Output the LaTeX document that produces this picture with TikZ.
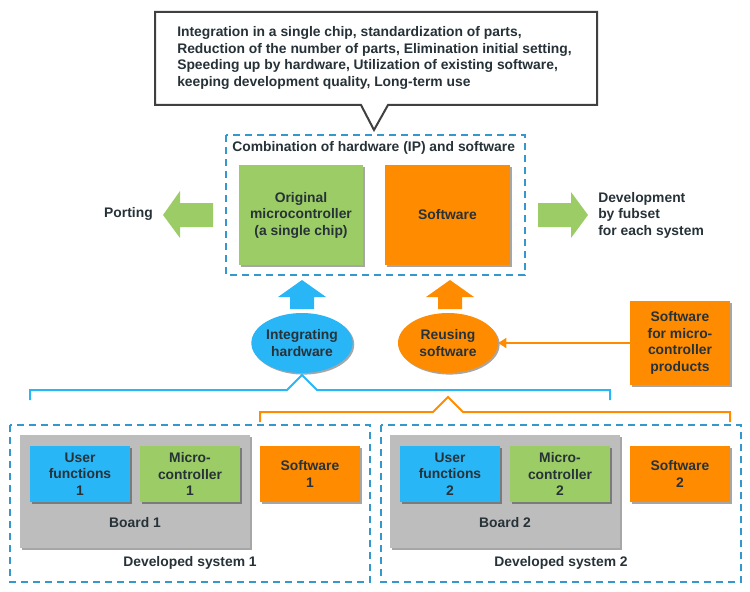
\documentclass[tikz,border=0pt]{standalone}
\usepackage{fontspec}
\setmainfont{Liberation Sans}
\usetikzlibrary{shapes.geometric,shadows,arrows.meta}
\definecolor{txt}{RGB}{38,50,56}
\definecolor{cblue}{RGB}{41,182,246}
\definecolor{cgreen}{RGB}{156,204,101}
\definecolor{corange}{RGB}{255,140,0}
\definecolor{cgray}{RGB}{189,189,189}
\definecolor{dblue}{RGB}{51,153,204}
\definecolor{cborder}{RGB}{64,64,64}
\begin{document}
\begin{tikzpicture}[x=0.75pt,y=-0.75pt,
  font=\bfseries\fontsize{10.4}{12.4}\selectfont, text=txt,
  sh/.style={drop shadow={shadow xshift=1.2pt,shadow yshift=-1.2pt,opacity=0.35,fill=black}},
  box/.style={rectangle, inner sep=0pt, align=center, sh},
  dbox/.style={draw=dblue, line width=1.5pt, dash pattern=on 5.5pt off 3.5pt},
  oval/.style={ellipse, inner sep=0pt, align=center, sh, minimum width=75pt, minimum height=45pt},
  lbl/.style={inner sep=0pt, align=center},
  bracket/.style={line width=1.5pt, line join=miter}
]
\useasboundingbox (0,0) rectangle (750,592);

% callout
\draw[draw=cborder, line width=1.5pt, fill=white, line join=miter]
  (155,12) -- (597,12) -- (597,105) -- (388,105) -- (374,130) -- (361,105) -- (155,105) -- cycle;
\node[lbl, align=left, anchor=north west] (call) at (177,26.5)
  {Integration in a single chip, standardization of parts,\\
   Reduction of the number of parts, Elimination initial setting,\\
   Speeding up by hardware, Utilization of existing software,\\
   keeping development quality, Long-term use};

% combination box
\draw[dbox] (226,135) rectangle (525,275);
\node[lbl, anchor=west] (comb) at (232,148) {Combination of hardware (IP) and software};
\node[box, fill=cgreen, minimum width=93pt, minimum height=75pt] (orig) at (301,215)
  {Original\\microcontroller\\(a single chip)};
\node[box, fill=corange, minimum width=93.75pt, minimum height=75pt] (sw) at (447.5,215) {Software};

% side arrows
\fill[cgreen] (163,215) -- (180,191) -- (180,203) -- (213,203) -- (213,227) -- (180,227) -- (180,238) -- cycle;
\fill[cgreen] (538,203) -- (571,203) -- (571,192) -- (588,215) -- (571,238) -- (571,227) -- (538,227) -- cycle;
\node[lbl, anchor=east] (port) at (153,214) {Porting};
\node[lbl, align=left, anchor=west] (dev) at (598,215) {Development\\by fubset\\for each system};

% up arrows
\fill[cblue] (302,280) -- (326,297) -- (314,297) -- (314,309) -- (290,309) -- (290,297) -- (278,297) -- cycle;
\fill[corange] (450,280) -- (474,297) -- (462,297) -- (462,309) -- (438,309) -- (438,297) -- (426,297) -- cycle;

% ellipses
\node[oval, fill=cblue] (integ) at (302,343) {Integrating\\hardware};
\node[oval, fill=corange] (reuse) at (448,343) {Reusing\\software};

% software products
\node[box, fill=corange, minimum width=75pt, minimum height=63pt] (swprod) at (680,343)
  {Software\\for micro-\\controller\\products};
\draw[corange, line width=1.1pt, -{Triangle[length=6pt,width=7.5pt]}] (swprod.west) -- (reuse.east);

% brackets
\draw[bracket, cblue] (30,400) -- (30,390) -- (287,390) -- (302,375) -- (317,390) -- (610,390) -- (610,400);
\draw[bracket, corange] (260,422) -- (260,412) -- (433,412) -- (448,397) -- (463,412) -- (730,412) -- (730,422);

% system 1
\draw[dbox] (10,425) rectangle (370,582);
\node[box, fill=cgray, minimum width=172.5pt, minimum height=84.75pt] (board1) at (135,491.5) {};
\node[box, fill=cblue, minimum width=75pt, minimum height=42pt] (uf1) at (80,474) {User\\functions\\1};
\node[box, fill=cgreen, minimum width=75pt, minimum height=42pt] (mc1) at (190,474) {Micro-\\controller\\1};
\node[box, fill=corange, minimum width=75pt, minimum height=42pt] (sw1) at (310,474) {Software\\1};
\node[lbl] (b1l) at (135,523) {Board 1};
\node[lbl] (ds1) at (190,563) {Developed system 1};

% system 2
\draw[dbox] (381,425) rectangle (741,582);
\node[box, fill=cgray, minimum width=172.5pt, minimum height=84.75pt] (board2) at (505,491.5) {};
\node[box, fill=cblue, minimum width=75pt, minimum height=42pt] (uf2) at (450,474) {User\\functions\\2};
\node[box, fill=cgreen, minimum width=75pt, minimum height=42pt] (mc2) at (560,474) {Micro-\\controller\\2};
\node[box, fill=corange, minimum width=75pt, minimum height=42pt] (sw2) at (680,474) {Software\\2};
\node[lbl] (b2l) at (505,523) {Board 2};
\node[lbl] (ds2) at (561,563) {Developed system 2};
\end{tikzpicture}
\end{document}
